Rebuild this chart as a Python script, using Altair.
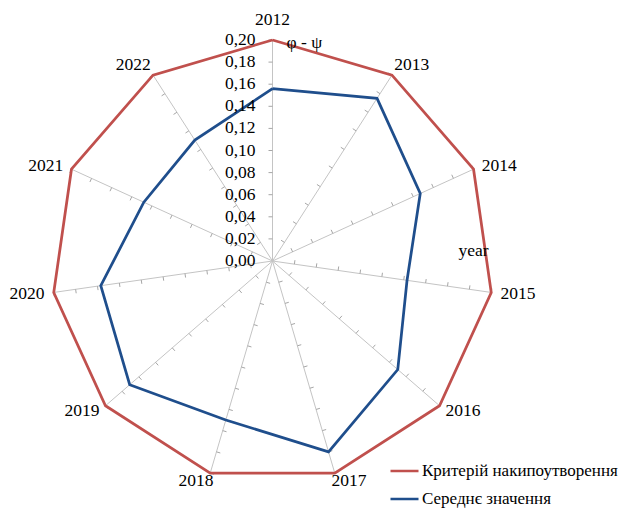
import altair as alt
import pandas as pd

# ---- data ----
years = ["2012", "2013", "2014", "2015", "2016", "2017",
         "2018", "2019", "2020", "2021", "2022"]
criterion = [0.20, 0.20, 0.20, 0.20, 0.20, 0.20, 0.20, 0.20, 0.20, 0.20, 0.20]
mean_values = [0.156, 0.175, 0.147, 0.123, 0.150, 0.180,
               0.150, 0.171, 0.157, 0.128, 0.130]
series_names = ["Критерій накипоутворення", "Середнє значення"]
series_colors = ["#C0504D", "#1F4E8C"]
tick_values = [0.00, 0.02, 0.04, 0.06, 0.08, 0.10, 0.12, 0.14, 0.16, 0.18, 0.20]
tick_labels = ["0,00", "0,02", "0,04", "0,06", "0,08", "0,10",
               "0,12", "0,14", "0,16", "0,18", "0,20"]
r_max = 0.20
value_title = "φ - ψ"
category_title = "year"

# ---- layout ----
W, H = 613, 504
CX, CY = 264.5, 253        # centre of the radar, px in the chart
K = r_max / 221.0          # data units per pixel
X_DOM = [-CX * K, (W - CX) * K]
Y_DOM = [(CY - H) * K, CY * K]
N = len(years)
FONT = "Liberation Serif, Times New Roman, serif"
FS = 17.5

# ---- tables ----
rows = []
for name, vals in zip(series_names, [criterion, mean_values]):
    for i in range(N + 1):
        rows.append({"series": name, "year": years[i % N], "idx": i,
                     "value": vals[i % N]})
poly_df = pd.DataFrame(rows)
year_df = pd.DataFrame({"year": years, "idx": list(range(N))})
tick_df = pd.DataFrame([{"idx": i, "v": v} for i in range(N) for v in tick_values[1:]])
lab_df = pd.DataFrame({"v": tick_values, "label": tick_labels})

theta = f"datum.idx * 2 * PI / {N}"

xs = alt.Scale(domain=X_DOM, nice=False, zero=False)
ys = alt.Scale(domain=Y_DOM, nice=False, zero=False)

base_year = alt.Chart(year_df).transform_calculate(
    th=theta,
    s="sin(datum.th)", c="cos(datum.th)",
)

spokes = base_year.transform_calculate(
    x0="0", y0="0",
    x1=f"{r_max} * datum.s", y1=f"{r_max} * datum.c",
).mark_rule(color="#C4C4C4", strokeWidth=1).encode(
    x=alt.X("x0:Q", scale=xs, axis=None),
    y=alt.Y("y0:Q", scale=ys, axis=None),
    x2="x1:Q", y2="y1:Q",
)

ticks = alt.Chart(tick_df).transform_calculate(
    th=theta,
    s="sin(datum.th)", c="cos(datum.th)",
).transform_calculate(
    xa="datum.v * datum.s", ya="datum.v * datum.c",
    xb=f"datum.v * datum.s - {4*K} * datum.c",
    yb=f"datum.v * datum.c + {4*K} * datum.s",
).mark_rule(color="#A6A6A6", strokeWidth=1).encode(
    x=alt.X("xa:Q", scale=xs, axis=None),
    y=alt.Y("ya:Q", scale=ys, axis=None),
    x2="xb:Q", y2="yb:Q",
)

lines = alt.Chart(poly_df).transform_calculate(
    th=theta,
).transform_calculate(
    x="datum.value * sin(datum.th)", y="datum.value * cos(datum.th)",
).mark_line(strokeWidth=2.75, strokeJoin="miter").encode(
    x=alt.X("x:Q", scale=xs, axis=None),
    y=alt.Y("y:Q", scale=ys, axis=None),
    order="idx:Q",
    color=alt.Color(
        "series:N",
        scale=alt.Scale(domain=series_names, range=series_colors),
        legend=alt.Legend(
            orient="none", legendX=381, legendY=452, title=None,
            symbolType="stroke", symbolSize=784, symbolStrokeWidth=2.5,
            clipHeight=22,
            labelFont=FONT, labelFontSize=17, labelColor="black",
            labelOffset=2, rowPadding=6, padding=0, labelLimit=400,
        ),
    ),
)

year_labels = base_year.transform_calculate(
    sg="datum.s > 0.001 ? 1 : (datum.s < -0.001 ? -1 : 0)",
).transform_calculate(
    lx=f"{r_max} * datum.s + {27*K} * datum.sg * sqrt(abs(datum.s))",
    ly=f"{r_max} * datum.c + {8*K} * datum.c + (datum.c > 0 ? {12*K} * pow(datum.c, 8) : 0)",
).mark_text(font=FONT, fontSize=FS, color="black", align="center",
            baseline="middle").encode(
    x=alt.X("lx:Q", scale=xs, axis=None),
    y=alt.Y("ly:Q", scale=ys, axis=None),
    text="year:N",
)

value_labels = alt.Chart(lab_df).transform_calculate(
    lx=f"{-17*K}",
).mark_text(font=FONT, fontSize=FS, color="black", align="right",
            baseline="middle").encode(
    x=alt.X("lx:Q", scale=xs, axis=None),
    y=alt.Y("v:Q", scale=ys, axis=None),
    text="label:N",
)

titles_df = pd.DataFrame({
    "t": [value_title, category_title],
    "tx": [14 * K, 186 * K],
    "ty": [r_max - 3 * K, 10 * K],
})
titles = alt.Chart(titles_df).mark_text(
    font=FONT, fontSize=FS, color="black", align="left", baseline="middle"
).encode(
    x=alt.X("tx:Q", scale=xs, axis=None),
    y=alt.Y("ty:Q", scale=ys, axis=None),
    text="t:N",
)

chart = alt.layer(spokes, ticks, lines, year_labels, value_labels, titles).properties(
    width=W, height=H,
    autosize=alt.AutoSizeParams(type="none"),
    padding=0,
    background="white",
).configure_view(stroke=None)

chart.save("out.html", embed_options={"renderer": "svg", "actions": False})
